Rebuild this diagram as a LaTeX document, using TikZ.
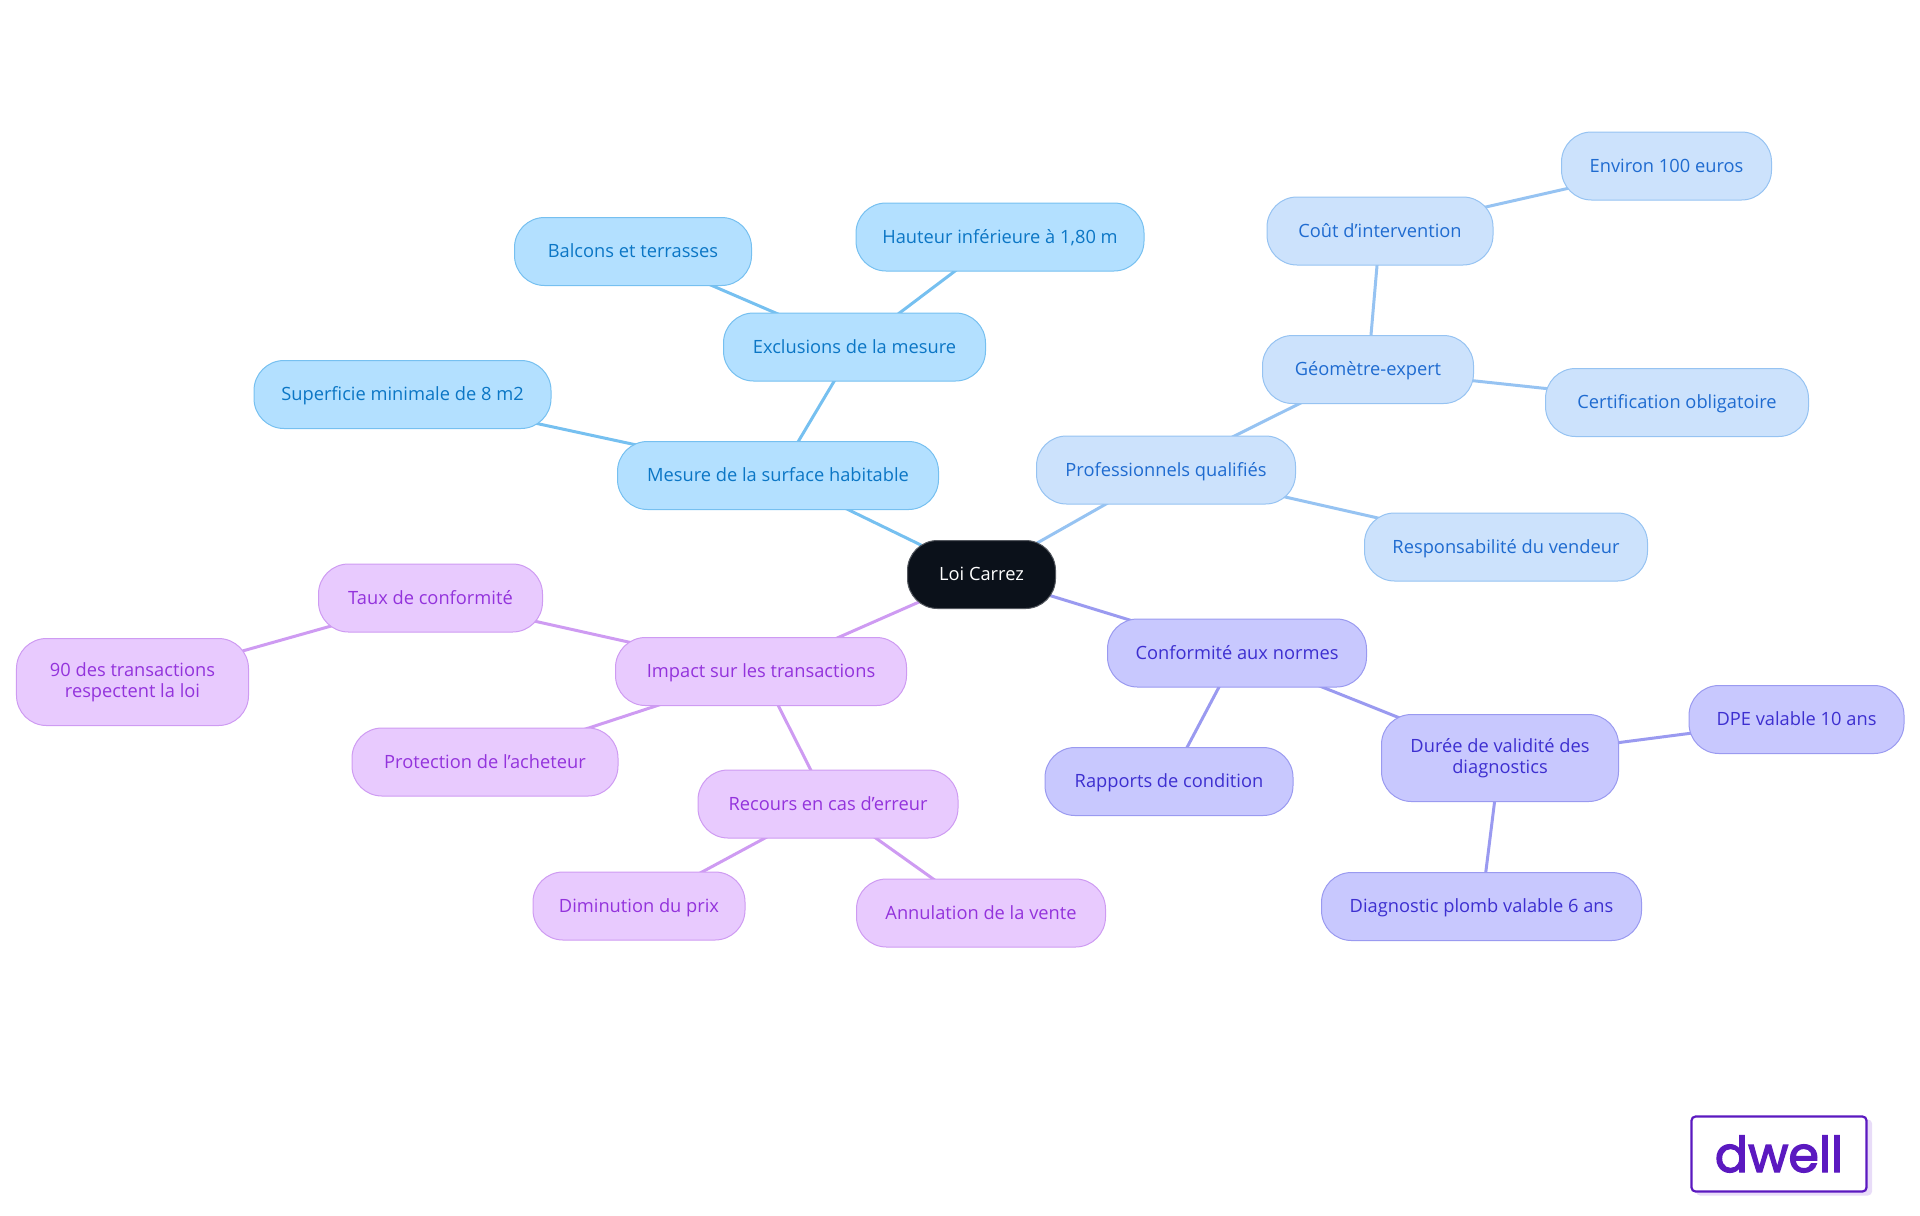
\documentclass[tikz,border=0pt]{standalone}
\usepackage{fontspec}
\setmainfont{Open Sans}
\newfontfamily\logofont[FakeBold=2.6]{Poppins}
\usetikzlibrary{backgrounds}

\definecolor{rootfill}{HTML}{0B111A}
\definecolor{bluefill}{HTML}{B3E0FF}
\definecolor{blueline}{HTML}{76C0F0}
\definecolor{bluetext}{HTML}{0B76C5}
\definecolor{skyfill}{HTML}{CCE2FC}
\definecolor{skyline}{HTML}{96C3F2}
\definecolor{skytext}{HTML}{1F6BD0}
\definecolor{indigofill}{HTML}{C8C8FE}
\definecolor{indigoline}{HTML}{9A9AF0}
\definecolor{indigotext}{HTML}{3D2FD0}
\definecolor{purplefill}{HTML}{E8CAFE}
\definecolor{purpleline}{HTML}{CE9BF2}
\definecolor{purpletext}{HTML}{9333DC}
\definecolor{logocolor}{HTML}{5B19C0}
\definecolor{logoshade}{HTML}{E8DCF8}

\tikzset{
  box/.style={draw, line width=0.01cm, rounded corners=0.30cm, minimum height=0.68cm, inner sep=0pt, align=center, text height=4.1pt, text depth=0.6pt, font=\fontsize{5.2pt}{5.9pt}\selectfont},
  bluebox/.style={box, fill=bluefill, draw=blueline, text=bluetext},
  skybox/.style={box, fill=skyfill, draw=skyline, text=skytext},
  indigobox/.style={box, fill=indigofill, draw=indigoline, text=indigotext},
  purplebox/.style={box, fill=purplefill, draw=purpleline, text=purpletext},
  twolines/.style={minimum height=0.87cm, text height=, text depth=},
  link/.style={line width=0.03cm}
}

\begin{document}
\begin{tikzpicture}
\useasboundingbox (0,0) rectangle (19.2,-12.15);

% Root
\node[box, fill=rootfill, draw=rootfill!70!white, text=white, minimum width=1.48cm] (root) at (9.815,-5.745) {Loi Carrez};

% Surface
\node[bluebox, minimum width=3.21cm] (mesure) at (7.78,-4.755) {Mesure de la surface habitable};
\node[bluebox, minimum width=2.62cm] (exclusions) at (8.545,-3.47) {Exclusions de la mesure};
\node[bluebox, minimum width=2.37cm] (balcons) at (6.33,-2.515) {Balcons et terrasses};
\node[bluebox, minimum width=2.88cm] (hauteur) at (10.00,-2.37) {Hauteur inférieure à 1,80 m};
\node[bluebox, minimum width=2.97cm] (superficie) at (4.025,-3.945) {Superficie minimale de 8 m2};

% Professionnels
\node[skybox, minimum width=2.59cm] (pros) at (11.66,-4.70) {Professionnels qualifiés};
\node[skybox, minimum width=2.11cm] (geometre) at (13.68,-3.695) {Géomètre-expert};
\node[skybox, minimum width=2.26cm] (cout) at (13.80,-2.31) {Coût d'intervention};
\node[skybox, minimum width=2.10cm] (environ) at (16.665,-1.66) {Environ 100 euros};
\node[skybox, minimum width=2.63cm] (certif) at (16.77,-4.025) {Certification obligatoire};
\node[skybox, minimum width=2.83cm] (respons) at (15.06,-5.47) {Responsabilité du vendeur};

% Normes
\node[indigobox, minimum width=2.59cm] (normes) at (12.37,-6.53) {Conformité aux normes};
\node[indigobox, minimum width=2.48cm] (rapports) at (11.69,-7.815) {Rapports de condition};
\node[indigobox, twolines, minimum width=2.37cm] (duree) at (15.00,-7.58) {Durée de validité des\\diagnostics};
\node[indigobox, minimum width=2.15cm] (dpe) at (17.965,-7.195) {DPE valable 10 ans};
\node[indigobox, minimum width=3.20cm] (plomb) at (14.815,-9.065) {Diagnostic plomb valable 6 ans};

% Transactions
\node[purplebox, minimum width=2.91cm] (impact) at (7.61,-6.715) {Impact sur les transactions};
\node[purplebox, minimum width=2.24cm] (taux) at (4.305,-5.98) {Taux de conformité};
\node[purplebox, twolines, minimum width=2.32cm] (respect) at (1.325,-6.82) {90 des transactions\\respectent la loi};
\node[purplebox, minimum width=2.66cm] (protection) at (4.85,-7.62) {Protection de l'acheteur};
\node[purplebox, minimum width=2.60cm] (recours) at (8.28,-8.04) {Recours en cas d'erreur};
\node[purplebox, minimum width=2.12cm] (prix) at (6.39,-9.06) {Diminution du prix};
\node[purplebox, minimum width=2.49cm] (annulation) at (9.81,-9.13) {Annulation de la vente};

% Links
\begin{scope}[on background layer]
\draw[link, blueline] (root.center) -- (mesure.center);
\draw[link, blueline] (mesure.center) -- (exclusions.center);
\draw[link, blueline] (mesure.center) -- (superficie.center);
\draw[link, blueline] (exclusions.center) -- (balcons.center);
\draw[link, blueline] (exclusions.center) -- (hauteur.center);
\draw[link, skyline] (root.center) -- (pros.center);
\draw[link, skyline] (pros.center) -- (geometre.center);
\draw[link, skyline] (pros.center) -- (respons.center);
\draw[link, skyline] (geometre.center) -- (cout.center);
\draw[link, skyline] (geometre.center) -- (certif.center);
\draw[link, skyline] (cout.center) -- (environ.center);
\draw[link, indigoline] (root.center) -- (normes.center);
\draw[link, indigoline] (normes.center) -- (rapports.center);
\draw[link, indigoline] (normes.center) -- (duree.center);
\draw[link, indigoline] (duree.center) -- (dpe.center);
\draw[link, indigoline] (duree.center) -- (plomb.center);
\draw[link, purpleline] (root.center) -- (impact.center);
\draw[link, purpleline] (impact.center) -- (taux.center);
\draw[link, purpleline] (impact.center) -- (protection.center);
\draw[link, purpleline] (impact.center) -- (recours.center);
\draw[link, purpleline] (taux.center) -- (respect.center);
\draw[link, purpleline] (recours.center) -- (prix.center);
\draw[link, purpleline] (recours.center) -- (annulation.center);
\end{scope}

% Logo
\node[fill=logoshade, rounded corners=0.04cm, minimum width=1.76cm, minimum height=0.76cm, inner sep=0pt] (logoshadow) at (17.84,-11.575) {};
\node[draw=logocolor, fill=white, line width=0.022cm, rounded corners=0.04cm, minimum width=1.75cm, minimum height=0.75cm, inner sep=0pt, text=logocolor, font=\logofont\fontsize{14pt}{14pt}\selectfont] (logo) at (17.79,-11.54) {dwell};
\end{tikzpicture}
\end{document}
